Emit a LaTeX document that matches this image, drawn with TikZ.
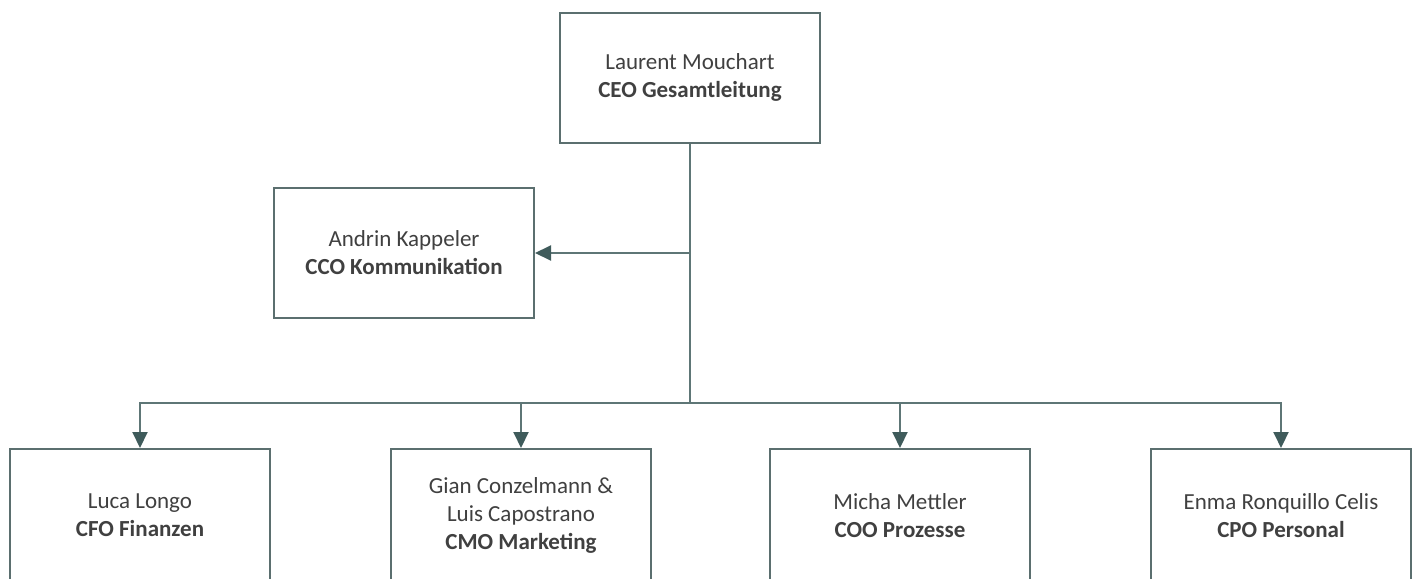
\documentclass[tikz,border=0pt]{standalone}
\usepackage{fontspec}
\setmainfont{Carlito}
\usetikzlibrary{arrows.meta}
\definecolor{boxline}{HTML}{5B6F6F}
\definecolor{conline}{HTML}{5E7676}
\definecolor{tipcol}{HTML}{3F5B5B}
\definecolor{txt}{HTML}{404040}
\tikzset{
  orgbox/.style={draw=boxline, line width=1pt, fill=white, minimum width=130pt, minimum height=65pt,
    align=center, text=txt, font=\fontsize{11.5pt}{14pt}\selectfont, inner sep=0pt},
  lowbox/.style={orgbox, minimum height=66.5pt},
  conn/.style={draw=conline, line width=1pt},
  arr/.style={conn, -{Triangle[width=7.5pt,length=8pt,fill=tipcol,color=tipcol]}}
}
\begin{document}
\begin{tikzpicture}[x=0.5pt,y=-0.5pt]
\useasboundingbox (0,0) rectangle (1418,578);
\node[orgbox] (ceo) at (690,77.5) {Laurent Mouchart\\\textbf{CEO Gesamtleitung}};
\node[orgbox] (cco) at (404,253) {Andrin Kappeler\\\textbf{CCO Kommunikation}};
\node[lowbox] (cfo) at (140,515.5) {Luca Longo\\\textbf{CFO Finanzen}};
\node[lowbox] (cmo) at (521,515.5) {Gian Conzelmann \&\\Luis Capostrano\\\textbf{CMO Marketing}};
\node[lowbox] (coo) at (900,515.5) {Micha Mettler\\\textbf{COO Prozesse}};
\node[lowbox] (cpo) at (1281,515.5) {Enma Ronquillo Celis\\\textbf{CPO Personal}};
\coordinate (j) at (690,403);
\coordinate (k) at (ceo.south |- cco.east);
\draw[conn] (ceo.south) -- (j);
\draw[arr] (k) -- (cco.east);
\draw[arr] (j) -| (cfo.north);
\draw[arr] (j) -| (cmo.north);
\draw[arr] (j) -| (coo.north);
\draw[arr] (j) -| (cpo.north);
\end{tikzpicture}
\end{document}
